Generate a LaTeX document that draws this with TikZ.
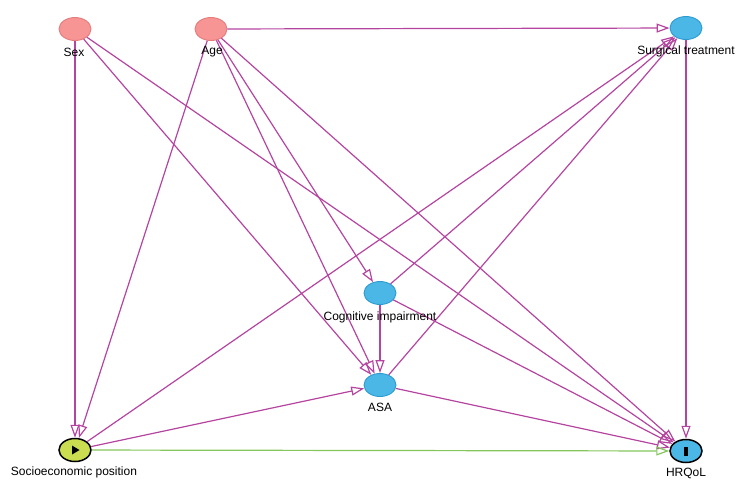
\documentclass[tikz,border=0pt]{standalone}
\usepackage{fontspec}
\setmainfont{Liberation Sans}
\usepackage{tikz}
\usetikzlibrary{shapes.geometric,arrows.meta,calc}
\definecolor{pinkfill}{HTML}{F79494}
\definecolor{pinkline}{HTML}{E57C7C}
\definecolor{bluefill}{HTML}{4BB7E7}
\definecolor{blueline}{HTML}{2E9BD0}
\definecolor{limefill}{HTML}{CADC50}
\definecolor{edgecol}{HTML}{B4449F}
\definecolor{greenedge}{HTML}{84C65C}
\tikzset{
	var/.style={ellipse,minimum width=32pt,minimum height=23pt,inner sep=0pt,line width=0.9pt},
	lab/.style={font=\fontsize{12}{14}\selectfont,inner sep=0pt},
	edge/.style={edgecol,line width=1.2pt,-{Triangle[open,length=13pt,width=9pt]}},
}

\begin{document}
\begin{tikzpicture}[x=1pt,y=-1pt]
	\useasboundingbox (0,0) rectangle (744,491);
	
	\node[var,fill=pinkfill,draw=pinkline] (sex) at (75,29) {};		%top row
	\node[var,fill=pinkfill,draw=pinkline] (age) at (211,29) {};
	\node[var,fill=bluefill,draw=blueline] (surg) at (686,28) {};
	\node[var,fill=bluefill,draw=blueline] (cog) at (380,293) {};		%middle
	\node[var,fill=bluefill,draw=blueline] (asa) at (380,385) {};
	\node[var,fill=limefill,draw=black,line width=1.5pt] (sep) at (75,450) {};	%exposure
	\node[var,fill=bluefill,draw=black,line width=1.5pt] (hrq) at (686,451) {};	%outcome
	\fill[black] ($(sep)+(-3,-4.5)$)--($(sep)+(-3,4.5)$)--($(sep)+(4.5,0)$)--cycle;
	\fill[black] ($(hrq)+(-1.6,-4.5)$) rectangle ($(hrq)+(1.6,4.5)$);
	
	\draw[edge] (sex) -- (sep);
	\draw[edge] (sex) -- (asa);
	\draw[edge] (sex) -- (hrq);
	%
	\draw[edge] (age) -- (surg);
	\draw[edge] (age) -- (sep);
	\draw[edge] (age) -- (cog);
	\draw[edge] (age) -- (asa);
	\draw[edge] (age) -- (hrq);
	%
	\draw[edge] (sep) -- (surg);
	\draw[edge] (cog) -- (surg);
	\draw[edge] (asa) -- (surg);
	\draw[edge] (surg) -- (hrq);
	%
	\draw[edge] (cog) -- (asa);
	\draw[edge] (cog) -- (hrq);
	\draw[edge] (asa) -- (hrq);
	\draw[edge] (sep) -- (asa);
	\draw[edge,greenedge] (sep) -- (hrq);		%exposure to outcome
	
	\node[lab] (sexlab) at (74,52) {Sex};
	\node[lab] (agelab) at (212,52) {Age};
	\node[lab] (surglab) at (686,51) {Surgical treatment};
	\node[lab] (coglab) at (380,317) {Cognitive impairment};
	\node[lab] (asalab) at (380,407) {ASA};
	\node[lab] (seplab) at (74,472) {Socioeconomic position};
	\node[lab] (hrqlab) at (686,473) {HRQoL};
\end{tikzpicture}
\end{document}
